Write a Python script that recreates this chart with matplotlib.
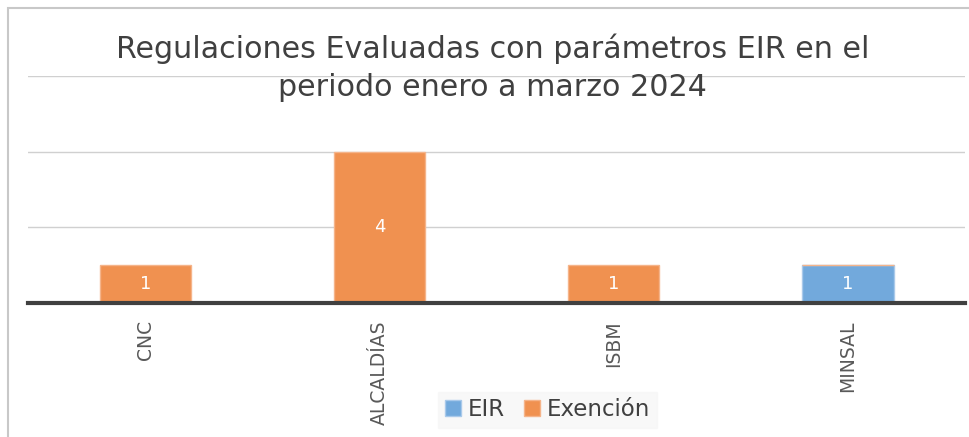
import numpy as np
import matplotlib
matplotlib.use("Agg")
from matplotlib import pyplot as plt
from matplotlib.patches import Rectangle

categories = ["CNC", "ALCALDÍAS", "ISBM", "MINSAL"]
eir = [0, 0, 0, 1]
exencion = [1, 4, 1, 0]
series_names = ["EIR", "Exención"]

title = "Regulaciones Evaluadas con parámetros EIR en el\nperiodo enero a marzo 2024"

blue = "#72a9dc"
orange = "#f09150"

plt.rcParams['font.family'] = ['DejaVu Sans']

fig = plt.figure(figsize=(9.69, 4.37), dpi=100)
ax = fig.add_axes([0.029, 0.307, 0.967, 0.519])

x = np.arange(len(categories))
w = 0.39
b1 = ax.bar(x, eir, w, color=blue, edgecolor="#a9c9ea", linewidth=1, label=series_names[0], zorder=3)
b2 = ax.bar(x, exencion, w, bottom=eir, color=orange, edgecolor="#f5b48a", linewidth=1,
            label=series_names[1], zorder=3)

# value labels, skip empty segments
for bars, vals, base in [(b1, eir, [0] * 4), (b2, exencion, eir)]:
    for rect, v, b in zip(bars, vals, base):
        if v:
            ax.text(rect.get_x() + rect.get_width() / 2, b + v / 2, str(v),
                    ha="center", va="center", color="white", fontsize=13, zorder=4)

ax.set_xlim(-0.5, len(categories) - 0.5)
ax.set_ylim(0, 6)
ax.set_yticks([0, 2, 4, 6])
ax.yaxis.grid(True, color="#d0d0d0", linewidth=1)
ax.set_axisbelow(True)
ax.tick_params(axis="y", left=False, labelleft=False)
ax.tick_params(axis="x", bottom=False, pad=9)
ax.set_xticks(x)
ax.set_xticklabels(categories, rotation=90, va="top", color="#595959", fontsize=13.5)

for side in ["top", "right", "left"]:
    ax.spines[side].set_visible(False)
ax.spines["bottom"].set_color("#404040")
ax.spines["bottom"].set_linewidth(3)
ax.spines["bottom"].set_zorder(5)

fig.text(0.508, 0.844, title, ha="center", va="center", fontsize=21.7,
         color="#404040", linespacing=1.39)

leg = fig.legend(handles=[b1, b2], loc="center", bbox_to_anchor=(0.565, 0.062),
                 ncol=2, frameon=True, fontsize=16.5, handlelength=0.7, handleheight=0.7,
                 handletextpad=0.3, columnspacing=0.8, borderpad=0.3, fancybox=False)
leg.get_frame().set_facecolor("#f7f7f7")
leg.get_frame().set_edgecolor("#f7f7f7")
for t in leg.get_texts():
    t.set_color("#404040")

# outer frame of the chart area
fig.patches.append(Rectangle((8 / 969, -0.05), 1.1, 1 - 8 / 437 + 0.05, transform=fig.transFigure,
                             fill=False, edgecolor="#c8c8c8", linewidth=1.5))

fig.savefig("out.png", dpi=100)
